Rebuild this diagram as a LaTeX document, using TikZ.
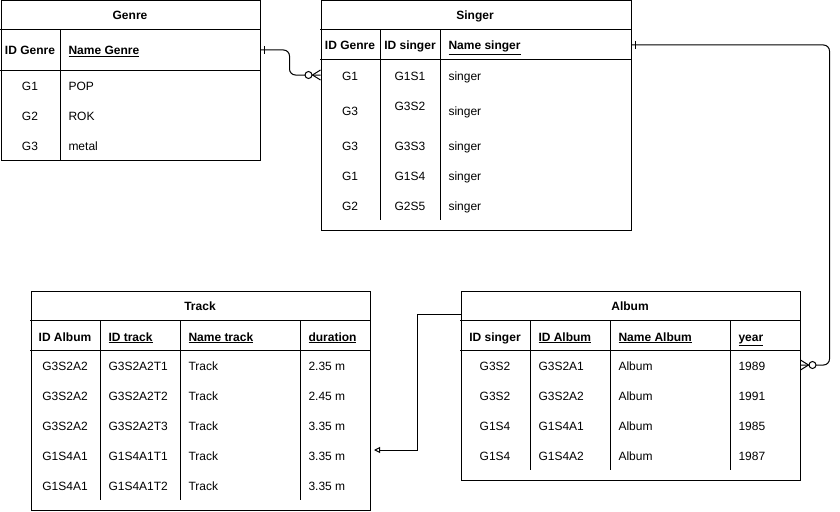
\documentclass[tikz,border=0pt]{standalone}
\usepackage{fontspec}
\setmainfont{Liberation Sans}
\usetikzlibrary{arrows.meta,calc}
\tikzset {>=Stealth}

\begin{document}
\fontsize{12}{14}\selectfont
\begin{tikzpicture}[x=1pt,y=-1pt,line width=1pt,inner sep=0pt,
  every node/.style={text height=12pt,text depth=2pt},
  tbl/.style={draw,anchor=north west,text height=,text depth=},
  ttl/.style={font=\bfseries},
  hd/.style={font=\bfseries},
  lt/.style={anchor=west}]
\useasboundingbox (0,0) rectangle (840,511);

\node[tbl,minimum width=259pt,minimum height=159pt] (genre) at (0.5,0.5) {};
\node[ttl] (genreT) at (130,15) {Genre};
\draw (0,30) -- (260,30) (0,70) -- (260,70) (60,30) -- (60,160);
\node[hd] (gH1) at (30,50) {ID Genre};
\node[hd,lt] (gH2) at (68,50) {\underline{Name Genre}};
\foreach \i/\a/\b in {1/G1/POP,2/G2/ROK,3/G3/metal}
  \node (g\i1) at (30,55+30*\i) {\a} node[lt] (g\i2) at (68,55+30*\i) {\b};

\node[tbl,minimum width=310pt,minimum height=229pt] (singer) at (320.5,0.5) {};
\node[ttl] (singerT) at (475,15) {Singer};
\draw (320,30) -- (631,30) (320,60) -- (631,60) (380,30) -- (380,220) (440,30) -- (440,220);
\node[hd] (sH1) at (350,45) {ID Genre};
\node[hd] (sH2) at (410,45) {ID singer};
\node[hd,lt] (sH3) at (448,45) {\underline{Name singer}};
\foreach \i/\y/\z/\a/\b in {1/75/75/G1/G1S1,2/110/105/G3/G3S2,3/145/145/G3/G3S3,4/175/175/G1/G1S4,5/205/205/G2/G2S5}
  \node (s\i1) at (350,\y) {\a} node (s\i2) at (410,\z) {\b} node[lt] (s\i3) at (448,\y) {singer};

\node[tbl,minimum width=339pt,minimum height=219pt] (track) at (30.5,290.5) {};
\node[ttl] (trackT) at (200,305) {Track};
\draw (30,320) -- (370,320) (30,350) -- (370,350) (100,320) -- (100,500) (180,320) -- (180,500) (300,320) -- (300,500);
\node[hd] (tH1) at (65,336) {ID Album};
\node[hd,lt] (tH2) at (108,336) {\underline{ID track}};
\node[hd,lt] (tH3) at (188,336) {\underline{Name track}};
\node[hd,lt] (tH4) at (308,336) {\underline{duration}};
\foreach \i/\a/\b/\d in {1/G3S2A2/G3S2A2T1/2.35,2/G3S2A2/G3S2A2T2/2.45,3/G3S2A2/G3S2A2T3/3.35,4/G1S4A1/G1S4A1T1/3.35,5/G1S4A1/G1S4A1T2/3.35}
  \node (t\i1) at (65,335+30*\i) {\a} node[lt] (t\i2) at (108,335+30*\i) {\b} node[lt] (t\i3) at (188,335+30*\i) {Track} node[lt] (t\i4) at (308,335+30*\i) {\d\ m};

\node[tbl,minimum width=339pt,minimum height=189pt] (album) at (460.5,290.5) {};
\node[ttl] (albumT) at (630,305) {Album};
\draw (460,320) -- (800,320) (460,350) -- (800,350) (530,320) -- (530,470) (610,320) -- (610,470) (730,320) -- (730,470);
\node[hd] (aH1) at (495,336) {ID singer};
\node[hd,lt] (aH2) at (538,336) {\underline{ID Album}};
\node[hd,lt] (aH3) at (618,336) {\underline{Name Album}};
\node[hd,lt] (aH4) at (738,336) {\underline{year}};
\foreach \i/\a/\b/\d in {1/G3S2/G3S2A1/1989,2/G3S2/G3S2A2/1991,3/G1S4/G1S4A1/1985,4/G1S4/G1S4A2/1987}
  \node (a\i1) at (495,335+30*\i) {\a} node[lt] (a\i2) at (538,335+30*\i) {\b} node[lt] (a\i3) at (618,335+30*\i) {Album} node[lt] (a\i4) at (738,335+30*\i) {\d};

\coordinate (gOut) at (genre.east |- gH1);
\coordinate (sIn) at (singer.west |- s11);
\draw[rounded corners=6pt] (gOut) -| ++(29,25) -- (sIn);
\draw (gOut) ++(4,-4) -- ++(0,8);
\draw (sIn) ++(-8,0) -- ++(8,-5) (sIn) ++(-8,0) -- ++(8,5);
\filldraw[fill=white] ([xshift=-12pt]sIn) circle (3.5);

\coordinate (sOut) at (singer.east |- sH1);
\coordinate (aIn) at (album.east |- a11);
\draw[rounded corners=6pt] (sOut) -- ++(198,0) |- (aIn);
\draw (sOut) ++(4,-4) -- ++(0,8);
\draw (aIn) ++(8,0) -- ++(-8,-5) (aIn) ++(8,0) -- ++(-8,5);
\filldraw[fill=white] ([xshift=12pt]aIn) circle (3.5);

\coordinate (aOut) at ([yshift=-24pt]album.north west);
\coordinate (tIn) at (374,450);
\draw[-{Triangle[open,length=6pt,width=6pt]}] (aOut) -- ++(-43,0) |- (tIn);
\end{tikzpicture}
\end{document}
